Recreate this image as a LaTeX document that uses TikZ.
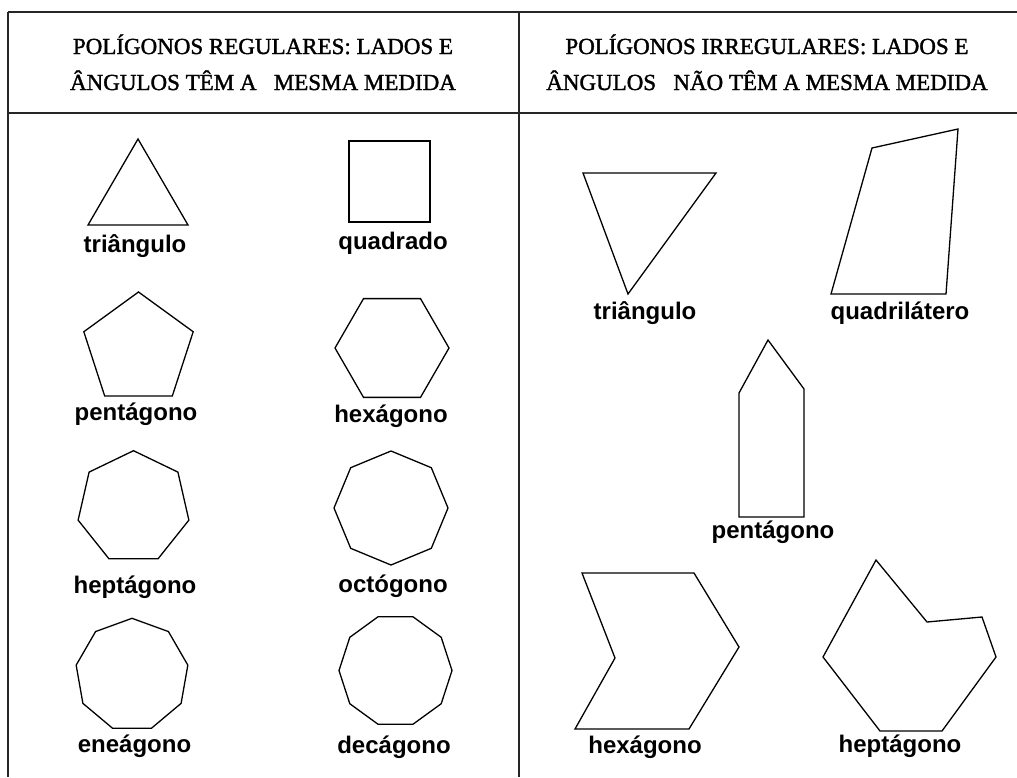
\documentclass[tikz,border=0pt]{standalone}
\usepackage{fontspec}
\setmainfont{Liberation Serif}
\newfontfamily\headfont[FakeBold=1.5]{Liberation Serif}
\newfontfamily\labelfont{Liberation Sans}
\begin{document}
\begin{tikzpicture}[x=1pt,y=-1pt,
  shapeline/.style={draw=black,line width=1.3pt,line join=miter},
  tableline/.style={draw=black!85,line width=1.2pt},
  head/.style={font=\headfont\fontsize{23}{36}\selectfont,align=center,anchor=base,inner sep=0pt},
  lbl/.style={font=\labelfont\bfseries\fontsize{24}{28}\selectfont,anchor=base,inner sep=0pt}]
\useasboundingbox[fill=white] (0,0) rectangle (1017,777);
% table
\coordinate (tl) at (8,12);
\coordinate (tr) at (1017,12);
\coordinate (hl) at (8,113);
\coordinate (hr) at (1017,113);
\coordinate (bl) at (8,777);
\coordinate (mt) at (519,12);
\coordinate (mb) at (519,777);
\draw[tableline] (tl) -- (tr);
\draw[tableline] (hl) -- (hr);
\draw[tableline] (tl) -- (bl);
\draw[tableline] (mt) -- (mb);
% headings
\node[head] (h1a) at (263,54) {POLÍGONOS REGULARES: LADOS E};
\node[head] (h1b) at (263,90) {ÂNGULOS TÊM A\ \ \ MESMA MEDIDA};
\node[head] (h2a) at (767,54) {POLÍGONOS IRREGULARES: LADOS E};
\node[head] (h2b) at (767,90) {ÂNGULOS\ \ \ NÃO TÊM A MESMA MEDIDA};
% regular polygons
\draw[shapeline] (138,139) -- (188,225) -- (88,225) -- cycle;
\draw[shapeline] (349,141) rectangle (430,222);
\draw[shapeline] plot[samples at={90,162,...,378}] ({138.5+57.5*cos(\x)},{349.5-57.5*sin(\x)}) -- cycle;
\draw[shapeline] plot[samples at={0,60,...,300}] ({392+57*cos(\x)},{348-57*sin(\x)}) -- cycle;
\draw[shapeline] plot[samples at={0,1,...,6}] ({133.5+56.8*cos(90+\x*360/7)},{507.5-56.8*sin(90+\x*360/7)}) -- cycle;
\draw[shapeline] plot[samples at={90,135,...,405}] ({391+57*cos(\x)},{508-57*sin(\x)}) -- cycle;
\draw[shapeline] plot[samples at={90,130,...,410}] ({132+56.7*cos(\x)},{675-56.7*sin(\x)}) -- cycle;
\draw[shapeline] plot[samples at={0,36,...,324}] ({395.5+56.5*cos(\x)},{670.5-56.5*sin(\x)}) -- cycle;
% labels left
\node[lbl] (l1) at (135,252) {triângulo};
\node[lbl] (l2) at (393,249) {quadrado};
\node[lbl] (l3) at (136,420) {pentágono};
\node[lbl] (l4) at (391,422) {hexágono};
\node[lbl] (l5) at (135,593) {heptágono};
\node[lbl] (l6) at (393,592) {octógono};
\node[lbl] (l7) at (134.5,752) {eneágono};
\node[lbl] (l8) at (394,753) {decágono};
% irregular polygons
\draw[shapeline] (583,173) -- (716,173) -- (628,294) -- cycle;
\draw[shapeline] (872,148) -- (958,129) -- (946,294) -- (831,294) -- cycle;
\draw[shapeline] (768,340) -- (804,389) -- (804,517) -- (739,517) -- (739,393) -- cycle;
\draw[shapeline] (582,573) -- (694,573) -- (739,647) -- (689,729) -- (575,729) -- (615,658) -- cycle;
\draw[shapeline] (876,560) -- (927,622) -- (982,617) -- (996,657) -- (942,731) -- (880,731) -- (823,657) -- cycle;
% labels right
\node[lbl] (r1) at (645,319) {triângulo};
\node[lbl] (r2) at (900,319) {quadrilátero};
\node[lbl] (r3) at (773,538) {pentágono};
\node[lbl] (r4) at (645,753) {hexágono};
\node[lbl] (r5) at (900,752) {heptágono};
\end{tikzpicture}
\end{document}
